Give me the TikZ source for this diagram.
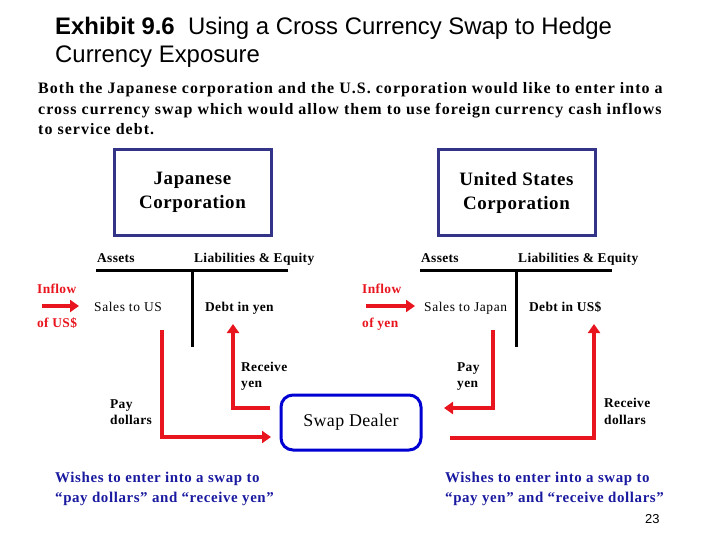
\documentclass[tikz,border=0pt]{standalone}
\usepackage{fontspec}
\setmainfont{Liberation Serif}
\newfontfamily\arialf{Liberation Sans}
\usetikzlibrary{arrows.meta}
\definecolor{navy}{RGB}{51,51,136}
\definecolor{dealerblue}{RGB}{0,0,210}
\definecolor{flowred}{RGB}{232,20,30}
\definecolor{wishblue}{RGB}{26,26,160}
\newcommand{\spaced}[1]{\addfontfeature{LetterSpace=#1}}
\tikzset{
  txt/.style={anchor=base west, inner sep=0pt, font=\fontsize{13.5}{15}\selectfont\spaced{4.5}},
  btxt/.style={txt, font=\fontsize{13.5}{15}\selectfont\bfseries\spaced{2.5}},
  redtxt/.style={btxt, text=flowred},
  para/.style={anchor=base west, inner sep=0pt, font=\fontsize{16}{21}\selectfont\bfseries\spaced{6.6}},
  wish/.style={anchor=base west, inner sep=0pt, text=wishblue, align=left,
    font=\fontsize{15}{20}\selectfont\bfseries\spaced{4}},
  corpbox/.style={draw=navy, line width=3bp, minimum width=157bp, minimum height=85bp,
    align=center, inner sep=0pt, font=\fontsize{19}{24}\selectfont\bfseries\spaced{3}},
  dealerbox/.style={draw=dealerblue, line width=3bp, rounded corners=12bp,
    minimum width=140bp, minimum height=55bp, inner sep=0pt,
    font=\fontsize{18}{20}\selectfont\spaced{2}},
  tline/.style={line width=3bp, black},
  redflow/.style={line width=4bp, flowred, -{Triangle[length=9bp,width=12bp]}},
  title/.style={anchor=base west, inner sep=0pt, font=\arialf\fontsize{24}{28}\selectfont},
}
\begin{document}
\begin{tikzpicture}[x=1bp,y=-1bp]
\useasboundingbox (0,0) rectangle (720,540);
% title
\node[title] (title1) at (55,34.5) {\textbf{Exhibit 9.6}\ \ Using a Cross Currency Swap to Hedge};
\node[title] (title2) at (55,62.5) {Currency Exposure};
% paragraph
\node[para] (p1) at (38,93.5) {Both the Japanese corporation and the U.S. corporation would like to enter into a};
\node[para] (p2) at (38,114.5) {cross currency swap which would allow them to use foreign currency cash inflows};
\node[para] (p3) at (38,135) {to service debt.};
% corporations
\node[corpbox] (jp) at (192.5,192.5) {Japanese\\Corporation};
\node[corpbox] (us) at (516.5,192.5) {United States\\Corporation};
% Japanese T-account
\node[btxt] (jassets) at (97,262.5) {Assets};
\node[btxt] (jliab) at (194,262.5) {Liabilities \& Equity};
\draw[tline] (96,270) -- (288,270);
\draw[tline] (192,270) -- (192,347);
\node[redtxt] (jinflow) at (37,293) {Inflow};
\node[redtxt] (jofus) at (37,327) {of US\$};
\coordinate (jinS) at (42,306);
\coordinate (jinE) at (79,306);
\draw[redflow] (jinS) -- (jinE);
\node[txt] (jsales) at (94,311) {Sales to US};
\node[btxt] (jdebt) at (205,311.5) {Debt in yen};
% US T-account
\node[btxt] (uassets) at (421,262.5) {Assets};
\node[btxt] (uliab) at (518,262.5) {Liabilities \& Equity};
\draw[tline] (420,270) -- (612,270);
\draw[tline] (516,270) -- (516,347);
\node[redtxt] (uinflow) at (362,293) {Inflow};
\node[redtxt] (uofyen) at (362,327) {of yen};
\coordinate (uinS) at (366,306);
\coordinate (uinE) at (415,306);
\draw[redflow] (uinS) -- (uinE);
\node[txt] (usales) at (424,311) {Sales to Japan};
\node[btxt] (udebt) at (529,311.5) {Debt in US\$};
% swap dealer
\node[dealerbox] (dealer) at (351,422.5) {Swap Dealer};
% Japanese flows
\coordinate (jpayS) at (162,330);
\coordinate (jpayE) at (271,437);
\draw[redflow] (jpayS) |- (jpayE);
\coordinate (jrecS) at (270,408);
\coordinate (jrecE) at (233,324);
\draw[redflow] (jrecS) -| (jrecE);
\node[btxt] (jrectxt) at (241,371.5) {Receive};
\node[btxt] (jrectxt2) at (241,387) {yen};
\node[btxt] (jpaytxt) at (110,408) {Pay};
\node[btxt] (jpaytxt2) at (110,424.5) {dollars};
% US flows
\coordinate (upayS) at (493,330);
\coordinate (upayE) at (444,408);
\draw[redflow] (upayS) |- (upayE);
\coordinate (urecS) at (450,438);
\coordinate (urecE) at (594,324);
\draw[redflow] (urecS) -| (urecE);
\node[btxt] (upaytxt) at (457,371.5) {Pay};
\node[btxt] (upaytxt2) at (457,387) {yen};
\node[btxt] (urectxt) at (604,407.5) {Receive};
\node[btxt] (urectxt2) at (604,424.5) {dollars};
% wishes
\node[wish] (jwish) at (55,482) {Wishes to enter into a swap to};
\node[wish] (jwish2) at (55,502) {“pay dollars” and “receive yen”};
\node[wish] (uwish) at (445,482) {Wishes to enter into a swap to};
\node[wish] (uwish2) at (445,502) {“pay yen” and “receive dollars”};
% page number
\node[anchor=base west, inner sep=0pt, font=\arialf\fontsize{13}{15}\selectfont] (pg) at (645,523) {23};
\end{tikzpicture}
\end{document}
